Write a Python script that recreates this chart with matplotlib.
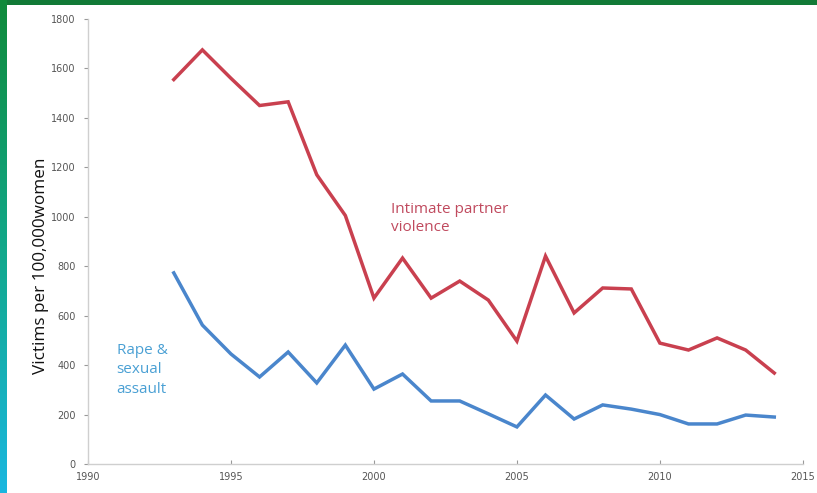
import matplotlib
matplotlib.use("Agg")
import matplotlib.pyplot as plt
import numpy as np
from matplotlib.colors import LinearSegmentedColormap

years = list(range(1993, 2015))
ipv = [1555, 1675, 1560, 1450, 1465, 1170, 1005, 671, 833, 671, 740, 663,
       497, 841, 611, 712, 708, 489, 461, 510, 461, 368]
rape = [773, 562, 445, 352, 453, 328, 481, 303, 364, 255, 255, 203,
        150, 279, 182, 239, 222, 200, 162, 162, 198, 190]
xticks = [1990, 1995, 2000, 2005, 2010, 2015]
yticks = list(range(0, 1801, 200))

fig = plt.figure(figsize=(8.17, 4.93), dpi=100)
fig.patch.set_facecolor("white")

ax = fig.add_axes([0.1077, 0.0588, 0.875, 0.9027])
ax.plot(years, ipv, color="#c9404f", lw=2.5, solid_joinstyle="miter")
ax.plot(years, rape, color="#4a86cc", lw=2.5, solid_joinstyle="miter")
ax.set_xlim(1990, 2015)
ax.set_ylim(0, 1800)
ax.set_xticks(xticks)
ax.set_yticks(yticks)
ax.tick_params(axis="both", labelsize=7, colors="#999999", labelcolor="#555555",
               length=3, width=0.8)
ax.tick_params(axis="x", direction="in", pad=6)
ax.tick_params(axis="y", direction="out", pad=6)
for s in ["top", "right"]:
    ax.spines[s].set_visible(False)
for s in ["left", "bottom"]:
    ax.spines[s].set_color("#cfcfcf")
    ax.spines[s].set_linewidth(1.0)
ax.set_ylabel("Victims per 100,000women", fontsize=12.3, family="Open Sans",
              color="#111111")
ax.yaxis.set_label_coords(-0.055, 0.445)

ax.text(2000.6, 1060, "Intimate partner\nviolence", color="#c04a5e",
        fontsize=11, family="Open Sans", va="top", linespacing=1.3)
ax.text(1991.0, 490, "Rape &\nsexual\nassault", color="#4aa0d4",
        fontsize=11, family="Open Sans", va="top", linespacing=1.4)

# decorative frame: top green bar and left gradient bar
top = fig.add_axes([0, 1 - 5 / 493, 1, 5 / 493])
top.set_axis_off()
top.add_patch(plt.Rectangle((0, 0), 1, 1, color="#127a37", transform=top.transAxes))

left = fig.add_axes([0, 0, 7 / 817, 1])
left.set_axis_off()
grad = np.linspace(0, 1, 256).reshape(-1, 1)
cmap = LinearSegmentedColormap.from_list("g", ["#0f8a3a", "#12a88a", "#1ab7e0"])
left.imshow(grad, aspect="auto", cmap=cmap, extent=[0, 1, 0, 1], origin="upper")

fig.savefig("out.png", dpi=100)
